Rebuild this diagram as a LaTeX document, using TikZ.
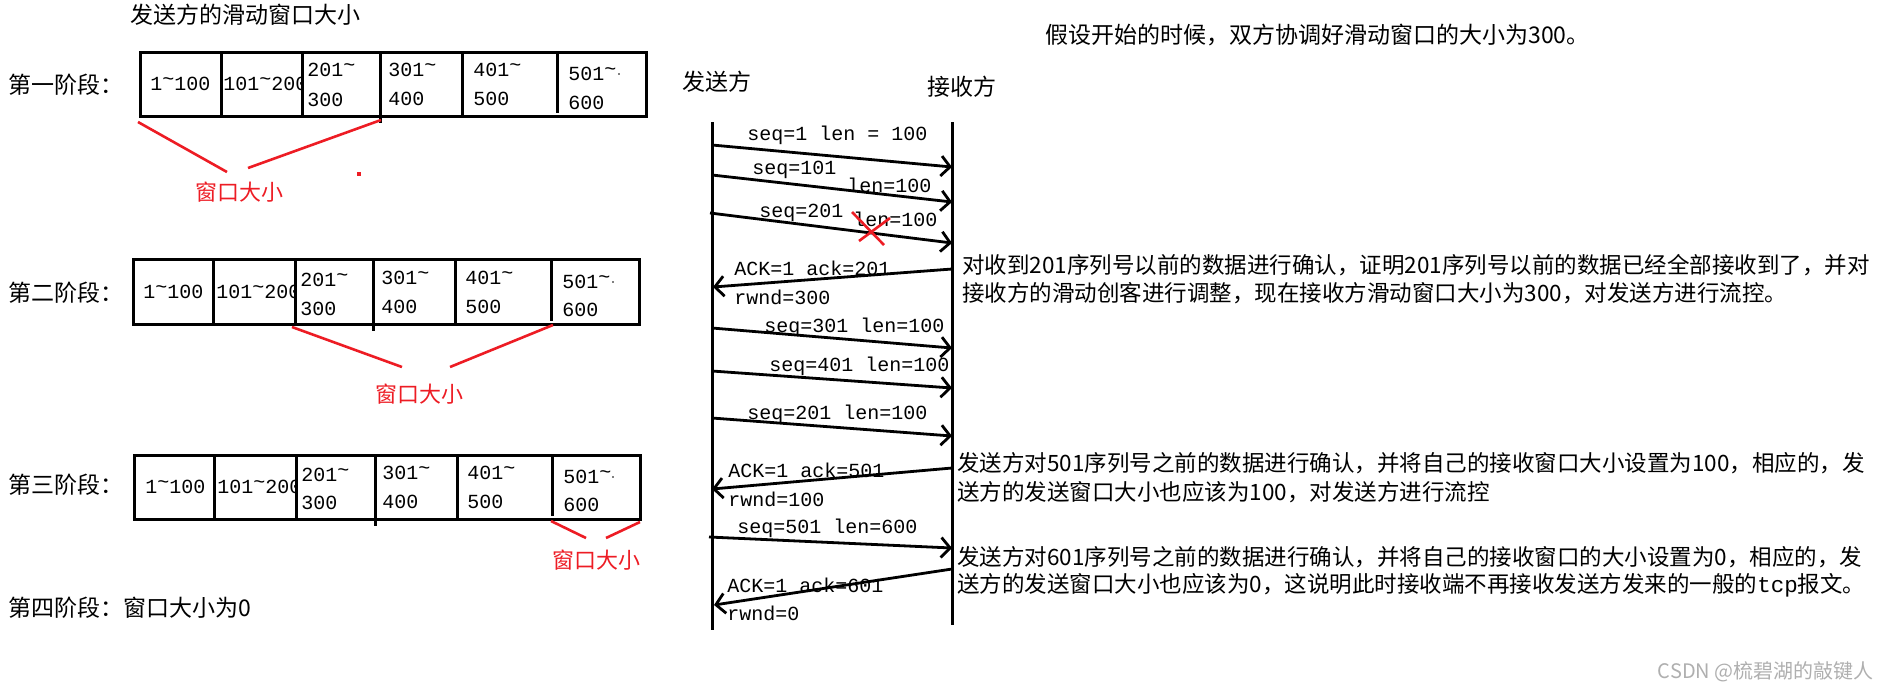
\documentclass[tikz,border=0pt]{standalone}
\usepackage{fontspec}
\setmainfont{Noto Sans CJK SC}
\newfontfamily\monofnt{Liberation Mono}
\usetikzlibrary{arrows.meta}
\definecolor{pred}{RGB}{237,28,36}
\definecolor{wmgray}{RGB}{175,175,175}
\newcommand{\hitil}{\raisebox{0.45ex}{\textasciitilde}}
\begin{document}
\begin{tikzpicture}[x=0.5pt,y=-0.5pt,
  cjk/.style={font=\fontsize{11.5pt}{13pt}\selectfont, inner sep=0pt, anchor=west},
  para/.style={font=\fontsize{11.25pt}{14pt}\selectfont, inner sep=0pt, anchor=west},
  redlbl/.style={font=\fontsize{11pt}{13pt}\selectfont, inner sep=0pt, text=pred},
  lbl/.style={font=\monofnt\fontsize{10pt}{12pt}\selectfont, inner sep=0pt, anchor=west},
  cell/.style={font=\monofnt\fontsize{10pt}{12pt}\selectfont, inner sep=0pt, anchor=west},
  boxline/.style={line width=1.5pt},
  redline/.style={pred, line width=1.3pt},
  life/.style={line width=1.5pt},
  msg/.style={line width=1.4pt, -{Straight Barb[length=4.5pt,width=10pt]}},
]
\useasboundingbox (0,0) rectangle (1889,692);

% ---------- titles ----------
\node[cjk] (title) at (130,15) {发送方的滑动窗口大小};
\node[cjk] (hdr) at (1045,35) {假设开始的时候，双方协调好滑动窗口的大小为300。};
\node[cjk] (st1) at (8,85) {第一阶段：};
\node[cjk] (st2) at (8,293) {第二阶段：};
\node[cjk] (st3) at (8,485) {第三阶段：};
\node[cjk] (st4) at (8,608) {第四阶段：窗口大小为0};

% ---------- stage 1 box ----------
\begin{scope}
\clip (221,52) rectangle (302,116);
\node[cell] (c1b) at (223,84) {101\hitil200};
\end{scope}
\node[cell] (c1a) at (150,84) {1\hitil100};
\node[cell] (c1c) at (307,70) {201\hitil};
\node[cell] (c1c2) at (307,100) {300};
\node[cell] (c1d) at (388,70) {301\hitil};
\node[cell] (c1d2) at (388,99) {400};
\node[cell] (c1e) at (473,70) {401\hitil};
\node[cell] (c1e2) at (473,99) {500};
\node[cell] (c1f) at (568,74) {501\hitil};
\node[cell] (c1f2) at (568,103) {600};
\fill[gray] (618,73) rectangle (620,75);
\draw[boxline] (140,52) rectangle (646,116);
\draw[boxline] (221,52) -- (221,116);
\draw[boxline] (302,52) -- (302,116);
\draw[boxline] (380,52) -- (380,123);
\draw[boxline] (462,52) -- (462,116);
\draw[boxline] (557,52) -- (557,113);
\draw[redline] (138,122) -- (227,172);
\draw[redline] (381,120) -- (248,168);
\fill[pred] (357,172) rectangle (361,176);
\node[redlbl] (w1) at (239,192) {窗口大小};

% ---------- stage 2 box ----------
\begin{scope}
\clip (213,259) rectangle (295,324);
\node[cell] (c2b) at (216,292) {101\hitil200};
\end{scope}
\node[cell] (c2a) at (143,292) {1\hitil100};
\node[cell] (c2c) at (300,280) {201\hitil};
\node[cell] (c2c2) at (300,309) {300};
\node[cell] (c2d) at (381,278) {301\hitil};
\node[cell] (c2d2) at (381,307) {400};
\node[cell] (c2e) at (465,278) {401\hitil};
\node[cell] (c2e2) at (465,307) {500};
\node[cell] (c2f) at (562,282) {501\hitil};
\node[cell] (c2f2) at (562,310) {600};
\fill[gray] (612,281) rectangle (614,283);
\draw[boxline] (133,259) rectangle (639,324);
\draw[boxline] (213,259) -- (213,324);
\draw[boxline] (295,259) -- (295,324);
\draw[boxline] (373,259) -- (373,331);
\draw[boxline] (455,259) -- (455,324);
\draw[boxline] (551,259) -- (551,321);
\draw[redline] (292,327) -- (402,367);
\draw[redline] (553,325) -- (450,367);
\node[redlbl] (w2) at (419,394) {窗口大小};

% ---------- stage 3 box ----------
\begin{scope}
\clip (214,455) rectangle (296,519);
\node[cell] (c3b) at (217,487) {101\hitil200};
\end{scope}
\node[cell] (c3a) at (145,487) {1\hitil100};
\node[cell] (c3c) at (301,475) {201\hitil};
\node[cell] (c3c2) at (301,503) {300};
\node[cell] (c3d) at (382,473) {301\hitil};
\node[cell] (c3d2) at (382,502) {400};
\node[cell] (c3e) at (467,473) {401\hitil};
\node[cell] (c3e2) at (467,502) {500};
\node[cell] (c3f) at (563,477) {501\hitil};
\node[cell] (c3f2) at (563,505) {600};
\fill[gray] (612,476) rectangle (614,478);
\draw[boxline] (134,455) rectangle (640,519);
\draw[boxline] (214,455) -- (214,519);
\draw[boxline] (296,455) -- (296,519);
\draw[boxline] (375,455) -- (375,526);
\draw[boxline] (457,455) -- (457,519);
\draw[boxline] (552,455) -- (552,516);
\draw[redline] (551,521) -- (586,538);
\draw[redline] (640,522) -- (606,538);
\node[redlbl] (w3) at (596,560) {窗口大小};

% ---------- sequence diagram ----------
\node[cjk] (snd) at (682,82) {发送方};
\node[cjk] (rcv) at (927,87) {接收方};
\coordinate (stop) at (712,122); \coordinate (sbot) at (712,630);
\coordinate (rtop) at (952,122); \coordinate (rbot) at (952,625);
\draw[life] (stop) -- (sbot);
\draw[life] (rtop) -- (rbot);

\coordinate (m1s) at (712,145); \coordinate (m1r) at (952,167);
\coordinate (m2s) at (712,175); \coordinate (m2r) at (952,202);
\coordinate (m3s) at (710,213); \coordinate (m3r) at (952,243);
\coordinate (m4r) at (952,269); \coordinate (m4s) at (713,287);
\coordinate (m5s) at (712,328); \coordinate (m5r) at (952,348);
\coordinate (m6s) at (712,371); \coordinate (m6r) at (952,388);
\coordinate (m7s) at (712,418); \coordinate (m7r) at (952,436);
\coordinate (m8r) at (952,468); \coordinate (m8s) at (712,489);
\coordinate (m9s) at (709,537); \coordinate (m9r) at (952,548);
\coordinate (m10r) at (952,569); \coordinate (m10s) at (714,605);

\draw[msg] (m1s) -- (m1r);
\draw[msg] (m2s) -- (m2r);
\draw[msg] (m3s) -- (m3r);
\draw[msg] (m4r) -- (m4s);
\draw[msg] (m5s) -- (m5r);
\draw[msg] (m6s) -- (m6r);
\draw[msg] (m7s) -- (m7r);
\draw[msg] (m8r) -- (m8s);
\draw[msg] (m9s) -- (m9r);
\draw[msg] (m10r) -- (m10s);

\node[lbl] (l1) at (747,135) {seq=1 len = 100};
\node[lbl] (l2a) at (752,170) {seq=101};
\node[lbl] (l2b) at (847,185) {len=100};
\node[lbl] (l3a) at (759,213) {seq=201};
\node[lbl] (l3b) at (853,219) {len=100};
\node[lbl] (l4a) at (734,268) {ACK=1 ack=201};
\node[lbl] (l4b) at (734,297) {rwnd=300};
\node[lbl] (l5) at (764,327) {seq=301 len=100};
\node[lbl] (l6) at (769,366) {seq=401 len=100};
\node[lbl] (l7) at (747,414) {seq=201 len=100};
\node[lbl] (l8a) at (728,470) {ACK=1 ack=501};
\node[lbl] (l8b) at (728,499) {rwnd=100};
\node[lbl] (l9) at (737,528) {seq=501 len=600};
\node[lbl] (l10a) at (727,585) {ACK=1 ack=601};
\node[lbl] (l10b) at (727,613) {rwnd=0};

% red cross (lost segment)
\draw[redline] (852,212) -- (884,245);
\draw[redline] (890,218) -- (859,241);

% ---------- explanations ----------
\node[para] (p1a) at (962,265) {对收到201序列号以前的数据进行确认，证明201序列号以前的数据已经全部接收到了，并对};
\node[para] (p1b) at (962,293) {接收方的滑动创客进行调整，现在接收方滑动窗口大小为300，对发送方进行流控。};
\node[para] (p2a) at (957,463) {发送方对501序列号之前的数据进行确认，并将自己的接收窗口大小设置为100，相应的，发};
\node[para] (p2b) at (957,492) {送方的发送窗口大小也应该为100，对发送方进行流控};
\node[para] (p3a) at (957,557) {发送方对601序列号之前的数据进行确认，并将自己的接收窗口的大小设置为0，相应的，发};
\node[para] (p3b) at (957,585) {送方的发送窗口大小也应该为0，这说明此时接收端不再接收发送方发来的一般的{\monofnt tcp}报文。};

\node[font=\fontsize{10pt}{12pt}\selectfont, text=wmgray, inner sep=0pt, anchor=east] (wm) at (1874,672) {CSDN @梳碧湖的敲键人};
\end{tikzpicture}
\end{document}
